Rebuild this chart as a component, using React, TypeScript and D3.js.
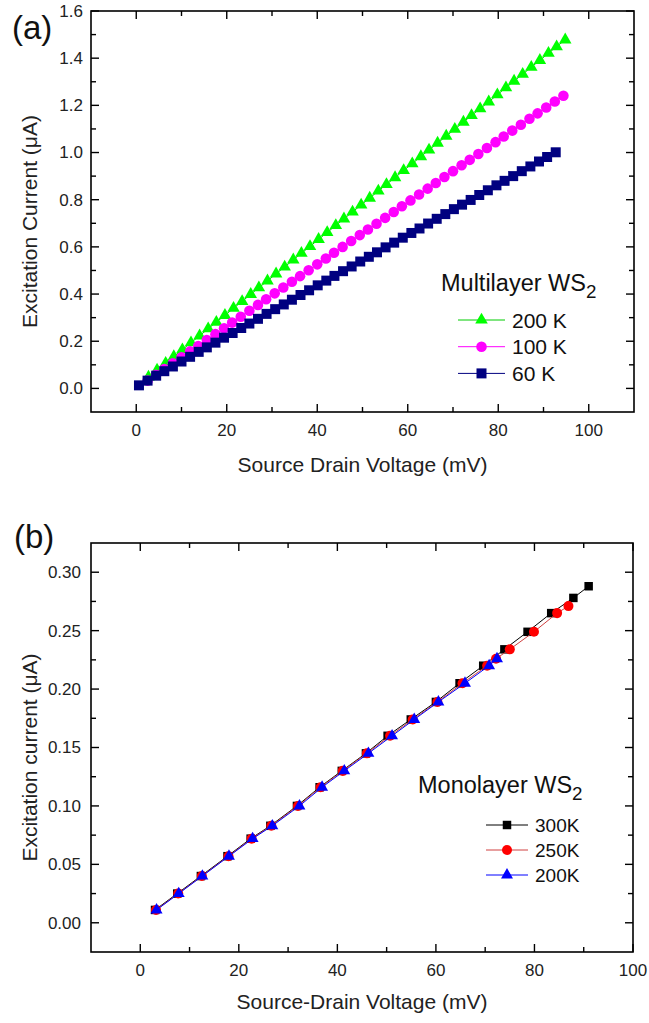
import React from "react";
import * as d3 from "d3";

const W = 649;
const H = 1023;
const FONT = "'Liberation Sans', Arial, sans-serif";

// ---- panel (a): multilayer WS2 ----
const vA200 = [2.7, 4.6, 6.5, 8.3, 10.2, 12.1, 14.0, 15.9, 17.7, 19.6, 21.5, 23.4, 25.3, 27.1, 29.0, 30.9, 32.8, 34.7, 36.5, 38.4, 40.3, 42.2, 44.1, 45.9, 47.8, 49.7, 51.6, 53.5, 55.3, 57.2, 59.1, 61.0, 62.9, 64.7, 66.6, 68.5, 70.4, 72.3, 74.1, 76.0, 77.9, 79.8, 81.7, 83.5, 85.4, 87.3, 89.2, 91.1, 92.9, 94.8];
const iA200 = [0.048, 0.078, 0.107, 0.135, 0.164, 0.194, 0.223, 0.253, 0.281, 0.310, 0.340, 0.369, 0.399, 0.427, 0.456, 0.486, 0.515, 0.545, 0.573, 0.602, 0.632, 0.661, 0.691, 0.719, 0.748, 0.778, 0.807, 0.837, 0.865, 0.894, 0.924, 0.953, 0.983, 1.011, 1.040, 1.070, 1.099, 1.129, 1.157, 1.186, 1.215, 1.245, 1.275, 1.303, 1.332, 1.362, 1.391, 1.421, 1.449, 1.478];

const vA100 = [2.5, 4.4, 6.2, 8.1, 10.0, 11.9, 13.7, 15.6, 17.5, 19.4, 21.2, 23.1, 25.0, 26.9, 28.7, 30.6, 32.5, 34.4, 36.2, 38.1, 40.0, 41.9, 43.7, 45.6, 47.5, 49.4, 51.2, 53.1, 55.0, 56.9, 58.7, 60.6, 62.5, 64.4, 66.2, 68.1, 70.0, 71.9, 73.7, 75.6, 77.5, 79.4, 81.2, 83.1, 85.0, 86.9, 88.7, 90.6, 92.5, 94.4];
const iA100 = [0.033, 0.058, 0.082, 0.107, 0.132, 0.157, 0.180, 0.205, 0.230, 0.255, 0.279, 0.304, 0.329, 0.354, 0.378, 0.403, 0.428, 0.452, 0.476, 0.501, 0.526, 0.551, 0.575, 0.600, 0.625, 0.650, 0.674, 0.698, 0.723, 0.748, 0.772, 0.797, 0.822, 0.847, 0.871, 0.896, 0.921, 0.946, 0.969, 0.994, 1.019, 1.044, 1.068, 1.093, 1.118, 1.143, 1.166, 1.191, 1.216, 1.241];

const vA60 = [0.6, 2.5, 4.4, 6.2, 8.1, 10.0, 11.9, 13.8, 15.6, 17.5, 19.4, 21.3, 23.2, 25.0, 26.9, 28.8, 30.7, 32.6, 34.4, 36.3, 38.2, 40.1, 42.0, 43.8, 45.7, 47.6, 49.5, 51.4, 53.2, 55.1, 57.0, 58.9, 60.8, 62.6, 64.5, 66.4, 68.3, 70.2, 72.0, 73.9, 75.8, 77.7, 79.6, 81.4, 83.3, 85.2, 87.1, 89.0, 90.8, 92.7];
const iA60 = [0.013, 0.033, 0.054, 0.073, 0.093, 0.114, 0.134, 0.155, 0.174, 0.194, 0.215, 0.235, 0.256, 0.275, 0.295, 0.316, 0.336, 0.356, 0.376, 0.396, 0.416, 0.437, 0.457, 0.477, 0.497, 0.517, 0.538, 0.558, 0.577, 0.598, 0.618, 0.639, 0.659, 0.678, 0.699, 0.719, 0.739, 0.760, 0.779, 0.799, 0.820, 0.840, 0.861, 0.880, 0.900, 0.921, 0.941, 0.962, 0.981, 1.001];

const xTicksA = [0, 20, 40, 60, 80, 100];
const yTicksA = [0, 0.2, 0.4, 0.6, 0.8, 1.0, 1.2, 1.4, 1.6];

// ---- panel (b): monolayer WS2 ----
const vB300 = [3.0, 7.5, 12.3, 17.7, 22.4, 26.4, 31.8, 36.4, 40.9, 45.8, 50.2, 54.9, 60.0, 64.8, 69.6, 73.9, 78.6, 83.4, 87.9, 91.0];
const iB300 = [0.011, 0.025, 0.040, 0.057, 0.072, 0.083, 0.100, 0.116, 0.130, 0.145, 0.160, 0.174, 0.189, 0.205, 0.220, 0.234, 0.249, 0.265, 0.278, 0.288];

const vB250 = [3.2, 7.7, 12.5, 17.9, 22.6, 26.6, 32.0, 36.6, 41.1, 46.0, 50.7, 55.3, 60.3, 65.4, 70.4, 72.2, 75.0, 79.9, 84.6, 86.9];
const iB250 = [0.011, 0.025, 0.040, 0.057, 0.072, 0.083, 0.100, 0.116, 0.130, 0.145, 0.160, 0.174, 0.189, 0.205, 0.220, 0.226, 0.234, 0.249, 0.265, 0.271];

const vB200 = [3.3, 7.8, 12.6, 18.0, 22.8, 26.8, 32.3, 36.9, 41.4, 46.3, 51.1, 55.6, 60.5, 65.9, 70.8, 72.4];
const iB200 = [0.011, 0.025, 0.040, 0.057, 0.072, 0.083, 0.100, 0.116, 0.130, 0.145, 0.160, 0.174, 0.189, 0.205, 0.220, 0.226];

const xTicksB = [0, 20, 40, 60, 80, 100];
const yTicksB = [0, 0.05, 0.1, 0.15, 0.2, 0.25, 0.3];

const zip = (xs: number[], ys: number[]) => xs.map((x, i) => [x, ys[i]] as [number, number]);

type Series = {
  name: string;
  pts: [number, number][];
  color: string;
  line: string;
  shape: d3.SymbolType;
  size: number;
};

function Panel(props: any) {
  const { box, xDomain, yDomain, xTicks, yTicks, xMinor, yMinor, yFmt, series, label, labelPos,
    xTitle, yTitle, yTitleX, yTitleDy, xTitleY, xLabY, yLabX, legend } = props;
  const x = d3.scaleLinear().domain(xDomain).range([box.left, box.right]);
  const y = d3.scaleLinear().domain(yDomain).range([box.bottom, box.top]);
  const line = d3.line<[number, number]>().x(d => x(d[0])).y(d => y(d[1]));
  const fmt = d3.format(yFmt);
  const major = 8, minor = 5;
  const sym = (s: Series) => d3.symbol().type(s.shape).size(s.size)() as string;
  return (
    <g>
      {(series as Series[]).map(s => (
        <g key={s.name}>
          <path d={line(s.pts) as string} fill="none" stroke={s.line} strokeWidth={1} />
          {s.pts.map((p, i) => (
            <path key={i} d={sym(s)} transform={`translate(${x(p[0])},${y(p[1])})`} fill={s.color} />
          ))}
        </g>
      ))}
      <rect x={box.left} y={box.top} width={box.right - box.left} height={box.bottom - box.top}
        fill="none" stroke="#000" strokeWidth={1.6} />
      {xMinor.map((t: number) => {
        const isMajor = xTicks.includes(t);
        const L = isMajor ? major : minor;
        return (
          <g key={"x" + t}>
            <line x1={x(t)} x2={x(t)} y1={box.bottom} y2={box.bottom - L} stroke="#000" strokeWidth={1.4} />
            <line x1={x(t)} x2={x(t)} y1={box.top} y2={box.top + L} stroke="#000" strokeWidth={1.4} />
          </g>
        );
      })}
      {yMinor.map((t: number) => {
        const isMajor = yTicks.some((v: number) => Math.abs(v - t) < 1e-6);
        const L = isMajor ? major : minor;
        return (
          <g key={"y" + t}>
            <line x1={box.left} x2={box.left + L} y1={y(t)} y2={y(t)} stroke="#000" strokeWidth={1.4} />
            <line x1={box.right} x2={box.right - L} y1={y(t)} y2={y(t)} stroke="#000" strokeWidth={1.4} />
          </g>
        );
      })}
      {xTicks.map((t: number) => (
        <text key={"xl" + t} x={x(t)} y={xLabY} textAnchor="middle" fontSize={17} fill="#222">{t}</text>
      ))}
      {yTicks.map((t: number) => (
        <text key={"yl" + t} x={yLabX} y={y(t)} dy="0.35em" textAnchor="end" fontSize={17} fill="#222">{fmt(t)}</text>
      ))}
      <text x={(box.left + box.right) / 2} y={xTitleY} textAnchor="middle" fontSize={21} fill="#222">{xTitle}</text>
      <text transform={`translate(${yTitleX},${(box.top + box.bottom) / 2 + yTitleDy}) rotate(-90)`} textAnchor="middle"
        fontSize={21} fill="#222">{yTitle}</text>
      <text x={labelPos[0]} y={labelPos[1]} fontSize={33} fill="#111">{label}</text>
      <text x={legend.x} y={legend.y} fontSize={legend.titleSize} fill="#111">
        {legend.title}<tspan fontSize={legend.titleSize * 0.8} dy={7}>2</tspan>
      </text>
      {(series as Series[]).slice().sort((a, b) => legend.order.indexOf(a.name) - legend.order.indexOf(b.name)).map((s, i) => {
        const cy = legend.rowY + i * legend.rowGap;
        return (
          <g key={"lg" + s.name}>
            <line x1={legend.lx1} x2={legend.lx2} y1={cy} y2={cy} stroke={s.line} strokeWidth={1} />
            <path d={sym(s)} transform={`translate(${(legend.lx1 + legend.lx2) / 2},${cy})`} fill={s.color} />
            <text x={legend.tx} y={cy} dy="0.36em" fontSize={legend.size} fill="#111">{s.name}</text>
          </g>
        );
      })}
    </g>
  );
}

export default function App() {
  const seriesA: Series[] = [
    { name: "200 K", pts: zip(vA200, iA200), color: "#00ff00", line: "#00cc00", shape: d3.symbolTriangle, size: 68 },
    { name: "100 K", pts: zip(vA100, iA100), color: "#ff00ff", line: "#ff00ff", shape: d3.symbolCircle, size: 88 },
    { name: "60 K", pts: zip(vA60, iA60), color: "#000080", line: "#000080", shape: d3.symbolSquare, size: 100 },
  ];
  const seriesB: Series[] = [
    { name: "300K", pts: zip(vB300, iB300), color: "#000000", line: "#000000", shape: d3.symbolSquare, size: 72 },
    { name: "250K", pts: zip(vB250, iB250), color: "#ff0000", line: "#d04040", shape: d3.symbolCircle, size: 79 },
    { name: "200K", pts: zip(vB200, iB200), color: "#0000ff", line: "#0000ff", shape: d3.symbolTriangle, size: 62 },
  ];
  return (
    <svg width={W} height={H} style={{ position: "absolute", left: 0, top: 0, fontFamily: FONT, background: "#fff" }}>
      <rect width={W} height={H} fill="#fff" />
      <Panel
        box={{ left: 91, top: 11, right: 634, bottom: 412 }}
        xDomain={[-10, 110]} yDomain={[-0.1, 1.6]}
        xTicks={xTicksA} yTicks={yTicksA}
        xMinor={d3.range(0, 101, 10)} yMinor={d3.range(0, 16.5, 1).map(v => v / 10)}
        yFmt=".1f" series={seriesA}
        label="(a)" labelPos={[12, 39]}
        xTitle="Source Drain Voltage (mV)" yTitle="Excitation Current (μA)"
        yTitleX={37} yTitleDy={10} xTitleY={472} xLabY={436} yLabX={83}
        legend={{ x: 441, y: 291, title: "Multilayer WS", titleSize: 23.5, order: ["200 K", "100 K", "60 K"],
          rowY: 320, rowGap: 26.7, lx1: 458, lx2: 505, tx: 512, size: 21 }}
      />
      <Panel
        box={{ left: 91, top: 543, right: 633, bottom: 952 }}
        xDomain={[-10, 100]} yDomain={[-0.025, 0.325]}
        xTicks={xTicksB} yTicks={yTicksB}
        xMinor={d3.range(0, 101, 10)} yMinor={d3.range(0, 13, 1).map(v => v * 0.025)}
        yFmt=".2f" series={seriesB}
        label="(b)" labelPos={[14, 548]}
        xTitle="Source-Drain Voltage (mV)" yTitle="Excitation current (μA)"
        yTitleX={37} yTitleDy={10} xTitleY={1009} xLabY={976} yLabX={81}
        legend={{ x: 418, y: 793, title: "Monolayer WS", titleSize: 23.5, order: ["300K", "250K", "200K"],
          rowY: 825, rowGap: 25, lx1: 486, lx2: 528, tx: 535, size: 19 }}
      />
    </svg>
  );
}
